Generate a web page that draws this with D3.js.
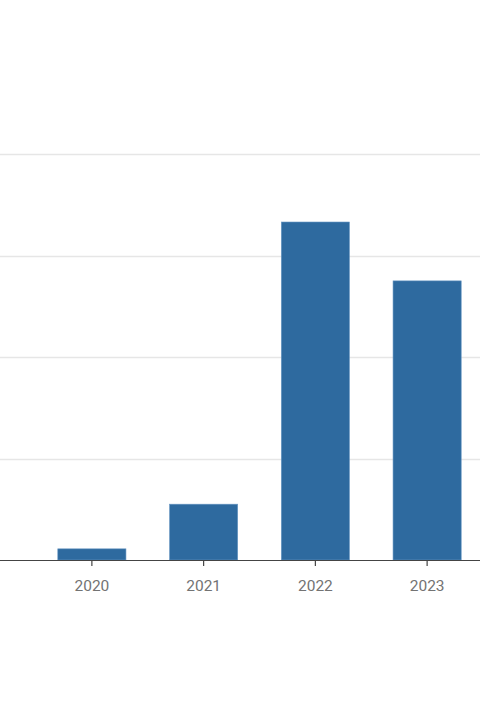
<!DOCTYPE html>
<html>
<head>
<meta charset="utf-8">
<script src="https://cdn.jsdelivr.net/npm/d3@7"></script>
<style>
html,body{margin:0;padding:0;background:#fff;}
svg{display:block;}
</style>
</head>
<body>
<svg id="chart" width="480" height="720"></svg>
<script>
const categories = ["2020", "2021", "2022", "2023"];
const values = [0.11, 0.55, 3.33, 2.75];
const yTicks = [0, 1, 2, 3, 4];

const svg = d3.select("#chart");
const baseY = 560, topY = 154;

const x = d3.scaleBand().domain(categories).range([36, 483]).paddingInner(0.39).paddingOuter(0.195);
const y = d3.scaleLinear().domain([0, 4]).range([baseY, topY]);

// gridlines
svg.append("g")
  .selectAll("line")
  .data(yTicks.filter(d => d > 0))
  .join("line")
  .attr("x1", 0).attr("x2", 480)
  .attr("y1", d => Math.round(y(d)) + 0.5)
  .attr("y2", d => Math.round(y(d)) + 0.5)
  .attr("stroke", "#e6e6e6")
  .attr("stroke-width", 1.5);

// bars
svg.append("g")
  .selectAll("rect")
  .data(categories.map((c, i) => ({c, v: values[i]})))
  .join("rect")
  .attr("x", d => x(d.c))
  .attr("width", x.bandwidth())
  .attr("y", d => y(d.v))
  .attr("height", d => y(0) - y(d.v))
  .attr("fill", "#2e6a9f")
  .attr("stroke", "#6a98c4")
  .attr("stroke-width", 0.6);

// x axis
const xAxis = svg.append("g")
  .attr("transform", `translate(0,${baseY})`)
  .call(d3.axisBottom(x).tickSize(6).tickSizeOuter(0).tickPadding(14));
xAxis.select(".domain").remove();
xAxis.append("line")
  .attr("x1", 0).attr("x2", 480).attr("y1", 0.5).attr("y2", 0.5)
  .attr("stroke", "#444").attr("stroke-width", 1.2);
xAxis.selectAll(".tick line").attr("stroke", "#444").attr("stroke-width", 1.2);
xAxis.selectAll(".tick text")
  .attr("fill", "#737373")
  .style("font-family", "Roboto, sans-serif")
  .style("font-size", "15.5px")
  .style("font-weight", "400");
</script>
</body>
</html>
